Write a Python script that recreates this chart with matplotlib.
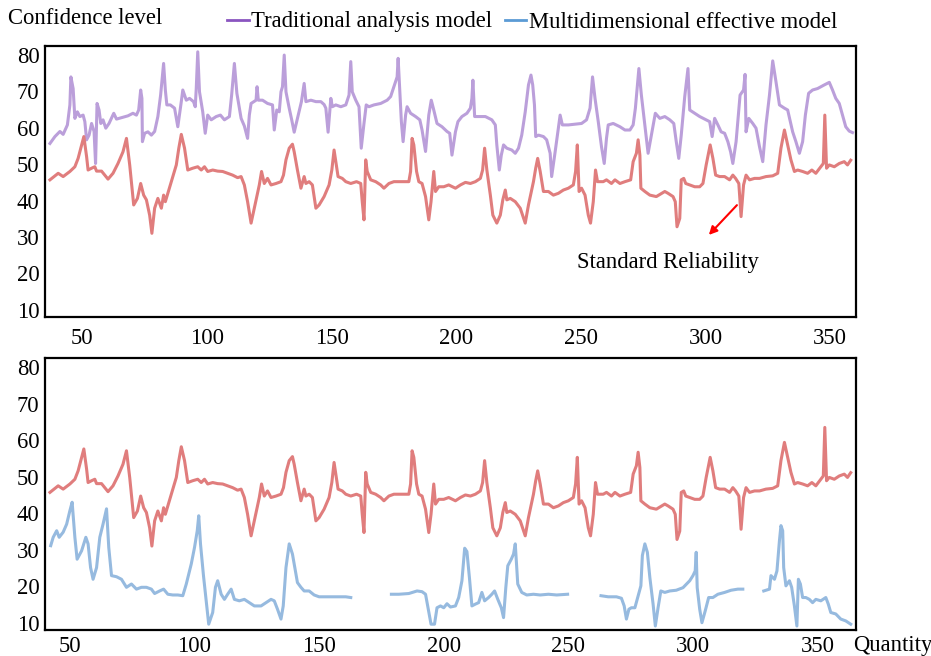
import numpy as np
import matplotlib.pyplot as plt
from matplotlib.lines import Line2D

plt.rcParams['font.family'] = ['Liberation Serif', 'DejaVu Serif']

# traditional analysis model (quantity, confidence)
traditional = np.array([
    (37, 55.7), (39, 57.6), (41, 59.0), (42.3, 58.2), (44, 60.8), (45, 66.3), (45.4, 74.0), (46.3, 70.8),
    (47, 62.6), (48, 64.4), (49, 63.1), (50.3, 63.5), (51, 61.7), (51.7, 56.7), (52.7, 58.0), (53.7, 61.2),
    (54.7, 59.0), (55.3, 50.2), (55.9, 66.7), (56.7, 64.9), (57.4, 61.2), (58.3, 62.2), (59.4, 59.9),
    (60.7, 61.2), (62.6, 64.0), (63.7, 62.4), (65.7, 62.8), (68.3, 63.3), (70.3, 64.0), (71.7, 63.5),
    (72.6, 64.9), (73.4, 70.4), (73.9, 68.1), (74.1, 56.2), (75, 58.5), (76.3, 58.9), (77.7, 58.0),
    (79, 59.0), (80.3, 63.1), (81.4, 69.0), (82.6, 77.7), (83.3, 70.4), (83.9, 66.3), (85.3, 66.3),
    (87, 65.4), (88.3, 60.3), (89.7, 67.2), (90.3, 70.4), (91.7, 67.6), (93, 68.1), (94.6, 67.2),
    (95.3, 65.8), (95.7, 70.8), (96.3, 80.9), (97, 69.9), (98.3, 64.4), (99.3, 58.5), (100.3, 63.5),
    (101.7, 62.2), (103.7, 63.1), (105.4, 63.5), (107, 62.2), (109, 63.1), (109.9, 69.0), (111, 77.7),
    (112, 69.5), (113.7, 62.6), (115, 60.5), (116.3, 57.1), (117, 63.5), (117.7, 66.7), (119.7, 67.6),
    (120.1, 71.3), (120.6, 67.6), (122.3, 67.6), (124.3, 66.7), (126.3, 66.3), (127, 59.4), (128, 64.9),
    (129, 64.4), (129.7, 69.9), (130.3, 71.3), (131, 80.0), (131.7, 69.9), (133, 65.4), (134, 62.2),
    (135, 58.8), (136.3, 62.6), (137.9, 67.2), (139, 72.2), (139.7, 67.2), (141.7, 67.6), (143.7, 67.2),
    (145.7, 67.2), (147, 66.4), (147.7, 65.4), (148.6, 58.8), (149.7, 68.1), (150.3, 65.8), (151.7, 66.3),
    (153.7, 65.8), (155.7, 66.3), (157, 69.0), (157.7, 78.2), (158.3, 69.9), (159.7, 67.6), (161, 65.8),
    (161.9, 54.4), (163, 61.2), (163.9, 66.3), (165, 65.8), (167, 66.3), (169.7, 66.7), (172.3, 67.6),
    (173.7, 68.6), (175, 71.3), (176.3, 74.0), (176.7, 79.1), (177.3, 70.8), (178, 61.7), (178.7, 56.2),
    (179.7, 63.5), (180.3, 65.8), (181.7, 64.0), (183.7, 63.1), (185.4, 62.2), (186.3, 59.4), (187.7, 53.5),
    (189, 63.5), (190, 67.6), (191, 64.9), (192.3, 61.2), (194.3, 60.3), (196.3, 59.0), (197.4, 58.5),
    (198.3, 52.5), (199.7, 58.9), (200.7, 61.7), (202.3, 63.1), (204.3, 64.0), (205.7, 65.4), (206.3, 68.1),
    (206.7, 73.1), (207.4, 63.1), (209, 63.1), (211.7, 63.1), (214.3, 62.2), (215.7, 60.8), (216.3, 55.3),
    (217.3, 48.4), (218.1, 52.5), (219, 55.3), (220.3, 54.4), (222.3, 53.9), (223.7, 53.0), (225, 54.4),
    (226.3, 58.0), (227.7, 64.4), (229, 71.8), (230, 74.5), (230.7, 71.8), (231.4, 66.3), (231.9, 57.6),
    (233, 58.0), (235, 57.6), (236.3, 56.7), (237.7, 53.0), (238.3, 46.6), (239.7, 53.4), (240.7, 58.5),
    (241.7, 63.5), (242.6, 60.8), (245, 60.8), (247.7, 61.0), (250.3, 61.2), (252.3, 62.2), (253.7, 65.4),
    (254.7, 74.0), (255.7, 68.1), (257, 61.7), (258.3, 54.8), (259.4, 50.2), (260.3, 57.1), (261, 60.8),
    (263, 61.2), (265.7, 60.3), (267.7, 59.4), (269.7, 59.4), (271, 60.8), (271.9, 65.4), (273.3, 76.3),
    (274.3, 69.0), (275.7, 60.8), (277, 53.0), (278.3, 58.0), (279.9, 64.0), (281.7, 62.6), (283.7, 63.1),
    (285.7, 62.2), (287.3, 61.2), (288.3, 56.2), (289.3, 51.6), (290.3, 58.0), (291.7, 68.6), (293, 76.3),
    (293.7, 64.9), (295.7, 64.0), (297.7, 63.1), (300.3, 62.2), (301.7, 61.7), (302.7, 57.6), (303.7, 62.6),
    (305, 60.8), (306.3, 58.9), (307.7, 58.5), (309, 56.2), (310.1, 53.4), (311, 50.2), (312.3, 56.2),
    (313.9, 69.0), (315.3, 70.4), (315.9, 74.7), (316.3, 58.9), (317.4, 62.6), (319, 61.2), (320.3, 59.9),
    (321.7, 54.8), (323, 50.7), (324.3, 60.8), (325.7, 69.0), (327, 78.4), (328.3, 72.7), (329.7, 66.3),
    (331.7, 65.4), (333, 64.9), (335, 58.9), (336.3, 56.2), (337.7, 53.0), (339, 56.2), (340.1, 63.5),
    (341.4, 69.5), (343, 70.4), (345, 70.8), (347.7, 71.8), (349.7, 72.5), (351, 70.4), (352.3, 68.1),
    (353.7, 66.7), (355, 63.5), (356.3, 60.3), (357.7, 59.1), (359, 58.7),
])

# standard reliability
standard = np.array([
    (37, 45.7), (40.3, 47.5), (42.3, 46.6), (45, 48.0), (47, 49.3), (48.3, 51.6), (49.7, 55.3), (50.6, 57.6),
    (51.7, 52.1), (52.3, 48.4), (53.7, 48.9), (55, 49.3), (55.7, 48.1), (57.7, 48.1), (59, 47.0), (60.3, 45.9),
    (62.3, 47.5), (64.3, 50.2), (66.3, 53.4), (67.7, 57.1), (69, 49.8), (70.6, 38.8), (72.1, 40.6),
    (73.4, 44.7), (74.6, 41.5), (75.7, 40.2), (77, 36.0), (77.9, 31.0), (79, 37.9), (80.3, 40.6),
    (81.7, 37.9), (82.6, 41.5), (83.3, 39.7), (85.7, 45.2), (87.7, 49.8), (88.7, 54.4), (89.7, 58.2),
    (91, 54.4), (92.3, 48.4), (94.3, 48.9), (96.3, 49.3), (97.7, 48.4), (99, 49.3), (100.3, 48.0),
    (102.3, 48.4), (104.3, 48.1), (106.3, 48.0), (108.3, 47.5), (110.3, 47.0), (112.3, 46.3), (113.7, 46.6),
    (115, 44.3), (116.3, 39.7), (117.7, 33.8), (119, 37.9), (121, 44.3), (121.9, 48.0), (123, 44.7),
    (124.3, 46.1), (125.7, 44.3), (127.7, 44.7), (129.7, 45.2), (130.7, 47.0), (131.7, 51.2), (133, 54.4),
    (134.3, 55.5), (135, 53.4), (136.3, 48.4), (137.7, 43.4), (139, 46.6), (139.7, 44.7), (141, 45.2),
    (142.3, 44.3), (143.7, 37.9), (145, 38.8), (147, 41.1), (149, 44.3), (150.1, 48.4), (151, 53.9),
    (151.7, 50.7), (152.6, 46.6), (154.3, 46.1), (155.7, 45.2), (157.7, 44.7), (160, 45.2), (161.7, 44.7),
    (162.3, 39.7), (163, 34.7), (163.7, 51.2), (164.3, 48.0), (165.7, 45.7), (167.7, 45.2), (169.7, 44.3),
    (171, 43.4), (173, 44.7), (175, 45.2), (177.7, 45.2), (181, 45.2), (181.7, 48.0), (182.3, 57.1),
    (183, 55.3), (184.1, 48.0), (185, 45.2), (186.3, 44.7), (187.7, 41.1), (189, 34.7), (189.9, 39.7),
    (191, 48.0), (191.7, 42.5), (193, 43.8), (195, 43.8), (197, 44.3), (199.7, 43.4), (201.7, 44.3),
    (203.7, 45.0), (205.7, 44.7), (207.7, 45.2), (209.7, 46.1), (210.6, 48.4), (211.4, 54.4), (212.3, 48.4),
    (213.7, 41.5), (214.7, 36.0), (216.3, 33.8), (217.7, 36.0), (218.7, 40.2), (219.7, 42.9), (220.3, 40.2),
    (221.7, 40.6), (223.7, 39.7), (225.7, 37.9), (227.7, 33.8), (229, 38.8), (231, 45.2), (231.9, 48.9),
    (232.7, 51.6), (233.7, 48.0), (235, 42.5), (237, 42.5), (239, 41.5), (241, 42.0), (243, 42.9),
    (245, 43.4), (247, 44.3), (247.9, 48.0), (248.6, 55.3), (249.3, 42.5), (250.3, 43.4), (251.7, 41.5),
    (253, 36.0), (253.9, 33.8), (255, 39.7), (255.9, 48.4), (256.7, 45.2), (259, 45.2), (260.3, 45.7),
    (262.3, 44.7), (263.7, 45.7), (265.7, 44.7), (267.7, 45.2), (270, 45.7), (271, 50.7), (272.3, 53.0),
    (273, 56.7), (273.7, 52.5), (274.1, 43.4), (275.7, 42.5), (277.7, 41.5), (280.3, 41.1), (283.7, 42.5),
    (285, 42.0), (287, 41.1), (287.9, 39.7), (288.6, 32.8), (289.7, 35.1), (290.3, 45.7), (291.3, 46.1),
    (292.1, 44.7), (293.7, 44.3), (295.7, 43.8), (297.7, 43.8), (299, 44.7), (300.3, 49.8), (301.9, 55.3),
    (303, 51.6), (304.1, 47.0), (305.7, 46.6), (307.7, 46.6), (309.7, 45.7), (311, 47.0), (312.1, 46.1),
    (313.4, 44.7), (314.3, 35.6), (315.3, 44.3), (316.3, 47.0), (317.7, 45.7), (319.7, 46.1), (321.7, 46.1),
    (324.3, 46.6), (327, 46.8), (329, 47.5), (330.3, 54.4), (331.7, 59.4), (333, 55.3), (334.3, 51.2),
    (335.7, 48.0), (337, 48.4), (339, 48.0), (341, 47.5), (342.7, 48.4), (344.3, 47.5), (346.3, 49.3),
    (347.3, 50.2), (347.9, 63.5), (348.6, 48.9), (349.7, 49.8), (351.7, 49.3), (353.7, 50.2), (355.7, 50.7),
    (357, 49.8), (358.3, 51.1),
])

# multidimensional effective model (nan = no value)
multidim = np.array([
    (37.3, 31.1), (38.3, 33.4), (39.7, 35.2), (40.7, 33.4), (42.3, 34.8), (43.7, 37.0), (45, 40.7),
    (45.9, 43.0), (47, 33.4), (47.9, 27.4), (49.7, 29.7), (51.4, 33.4), (52.3, 31.6), (53.3, 25.1),
    (54.3, 21.9), (55.7, 25.1), (57, 33.4), (58.3, 37.0), (59.7, 41.2), (60.6, 30.6), (61.7, 22.9),
    (63.7, 22.6), (65.7, 21.9), (67.7, 19.7), (69.7, 20.6), (71.7, 19.2), (73.7, 19.7), (75.7, 19.7),
    (77.7, 19.2), (79, 18.0), (81, 18.7), (82.6, 19.2), (84.3, 17.8), (86.3, 17.6), (88.3, 17.6),
    (90.3, 17.4), (91.7, 20.6), (93.7, 26.1), (95, 30.6), (96.1, 35.2), (96.7, 39.3), (97.4, 31.6),
    (98.6, 22.9), (99.7, 16.0), (100.7, 9.6), (102.3, 12.8), (103.4, 19.7), (104.3, 21.5), (105.7, 17.8),
    (107, 16.4), (108.3, 17.8), (109.7, 19.2), (111, 16.4), (113, 16.0), (115, 16.4), (117, 15.5),
    (119, 14.6), (121.7, 14.6), (123.7, 15.5), (125.7, 16.4), (127, 16.0), (128.3, 13.7), (129.7, 11.0),
    (130.6, 14.6), (131.7, 25.1), (133, 31.6), (134.3, 28.8), (136.3, 21.0), (137.7, 19.7), (139, 18.7),
    (141, 18.7), (143, 17.6), (145, 17.1), (147.7, 17.1), (150.3, 17.1), (153, 17.1), (155.7, 17.1),
    (157.7, 16.9), (166, np.nan),
    (174, 17.8), (177, 17.8), (181, 18.0), (184.3, 18.7), (186.3, 18.5), (187.7, 17.8), (188.7, 14.1),
    (189.9, 9.6), (191.3, 9.6), (192.3, 14.1), (193.7, 14.6), (195, 14.1), (196.3, 15.2), (197.7, 14.3),
    (199.7, 14.6), (201, 16.9), (202.3, 21.5), (203.4, 30.4), (204.3, 29.5), (205.3, 22.4), (206.3, 14.6),
    (207.7, 15.1), (209, 15.5), (210.3, 18.3), (211.4, 16.0), (213, 16.9), (214.3, 17.8), (215.4, 18.7),
    (216.7, 16.4), (218.1, 14.1), (219, 11.4), (219.9, 19.6), (220.7, 25.6), (222.1, 27.4), (223, 28.8),
    (223.7, 31.6), (224.7, 20.6), (226.3, 18.3), (228.3, 17.6), (231, 17.8), (233.7, 17.6), (237, 17.8),
    (240.3, 17.6), (244.7, 17.8), (251, np.nan),
    (258.1, 17.4), (261, 17.1), (264.3, 17.1), (266.3, 16.7), (267.4, 14.6), (268.3, 11.0), (269.3, 13.7),
    (270.3, 14.1), (271.7, 14.1), (273, 17.4), (274.1, 20.1), (274.7, 28.4), (275.7, 31.6), (276.7, 29.3),
    (277.7, 22.4), (279, 15.1), (279.9, 9.1), (281, 14.1), (282.1, 18.7), (283.7, 18.3), (285.7, 18.7),
    (288.3, 18.9), (291, 19.6), (293.7, 21.5), (295, 22.9), (295.9, 24.2), (296.3, 29.3), (296.7, 19.6),
    (297.7, 13.7), (298.6, 10.0), (299.9, 13.2), (301.3, 16.9), (303, 16.9), (305, 17.8), (307.7, 18.3),
    (310.3, 18.9), (313, 19.2), (315, 19.2), (319, np.nan),
    (323.4, 18.7), (325.7, 19.2), (326.3, 22.9), (327.7, 21.9), (328.7, 24.2), (329.7, 32.5), (330.3, 36.6),
    (331, 35.2), (331.4, 25.1), (332.3, 20.1), (333.7, 21.5), (334.6, 19.7), (335.7, 14.6), (336.7, 9.1),
    (337.3, 21.9), (338.1, 20.6), (339, 16.9), (340.3, 16.9), (341.7, 16.4), (343, 15.5), (344.3, 16.4),
    (346.3, 16.0), (348.3, 16.9), (349.3, 15.1), (350.3, 12.8), (352.3, 12.4), (354.3, 11.0), (356.3, 10.5),
    (358.3, 9.6),
])

y_ticks = [10, 20, 30, 40, 50, 60, 70, 80]
x_ticks = [50, 100, 150, 200, 250, 300, 350]

c_trad = '#bb9fda'
c_std = '#e07d7d'
c_multi = '#96badf'
lw = 2.2
fs = 16.3

fig = plt.figure(figsize=(9.31, 6.56), dpi=100)
ax1 = fig.add_axes([0.0483, 0.5168, 0.8711, 0.4131])
ax2 = fig.add_axes([0.0483, 0.0396, 0.8711, 0.4146])

ax1.plot(traditional[:, 0], traditional[:, 1], color=c_trad, lw=lw)
ax1.plot(standard[:, 0], standard[:, 1], color=c_std, lw=lw)
ax1.set_xlim(35, 360.4)

# lower panel axis runs 5 units later
shift = 5
ax2.plot(standard[:, 0] + shift, standard[:, 1], color=c_std, lw=lw)
ax2.plot(multidim[:, 0] + shift, multidim[:, 1], color=c_multi, lw=lw)
ax2.set_xlim(35 + shift, 360.4 + shift)

for ax, pad in ((ax1, 8), (ax2, 4)):
    ax.set_ylim(8, 82.5)
    ax.set_yticks(y_ticks)
    ax.set_xticks(x_ticks)
    ax.tick_params(axis='both', length=0, labelsize=fs)
    ax.tick_params(axis='x', pad=pad)
    ax.tick_params(axis='y', pad=4)
    for s in ax.spines.values():
        s.set_linewidth(1.6)
        s.set_color('black')

ax1.annotate('', xy=(300.6, 30.0), xytext=(313.4, 39.3),
             arrowprops=dict(arrowstyle='-|>', color='red', lw=1.5, mutation_scale=12))
ax1.text(285, 23.1, 'Standard Reliability', ha='center', va='center', fontsize=fs)

fig.text(8 / 931, 1 - 18 / 656, 'Confidence level', ha='left', va='center', fontsize=fs)
fig.text(853 / 931, 1 - 646 / 656, 'Quantity', ha='left', va='center', fontsize=fs)

handles = [Line2D([], [], color='#8a55c0', lw=2), Line2D([], [], color='#5b9bd5', lw=2)]
fig.legend(handles, ['Traditional analysis model', 'Multidimensional effective model'],
           loc='center left', bbox_to_anchor=(227 / 931, 1 - 22 / 656), ncol=2, frameon=False,
           handlelength=0.95, handletextpad=0.12, columnspacing=0.55, borderpad=0, borderaxespad=0,
           fontsize=fs)

fig.savefig('out.png', dpi=100)
